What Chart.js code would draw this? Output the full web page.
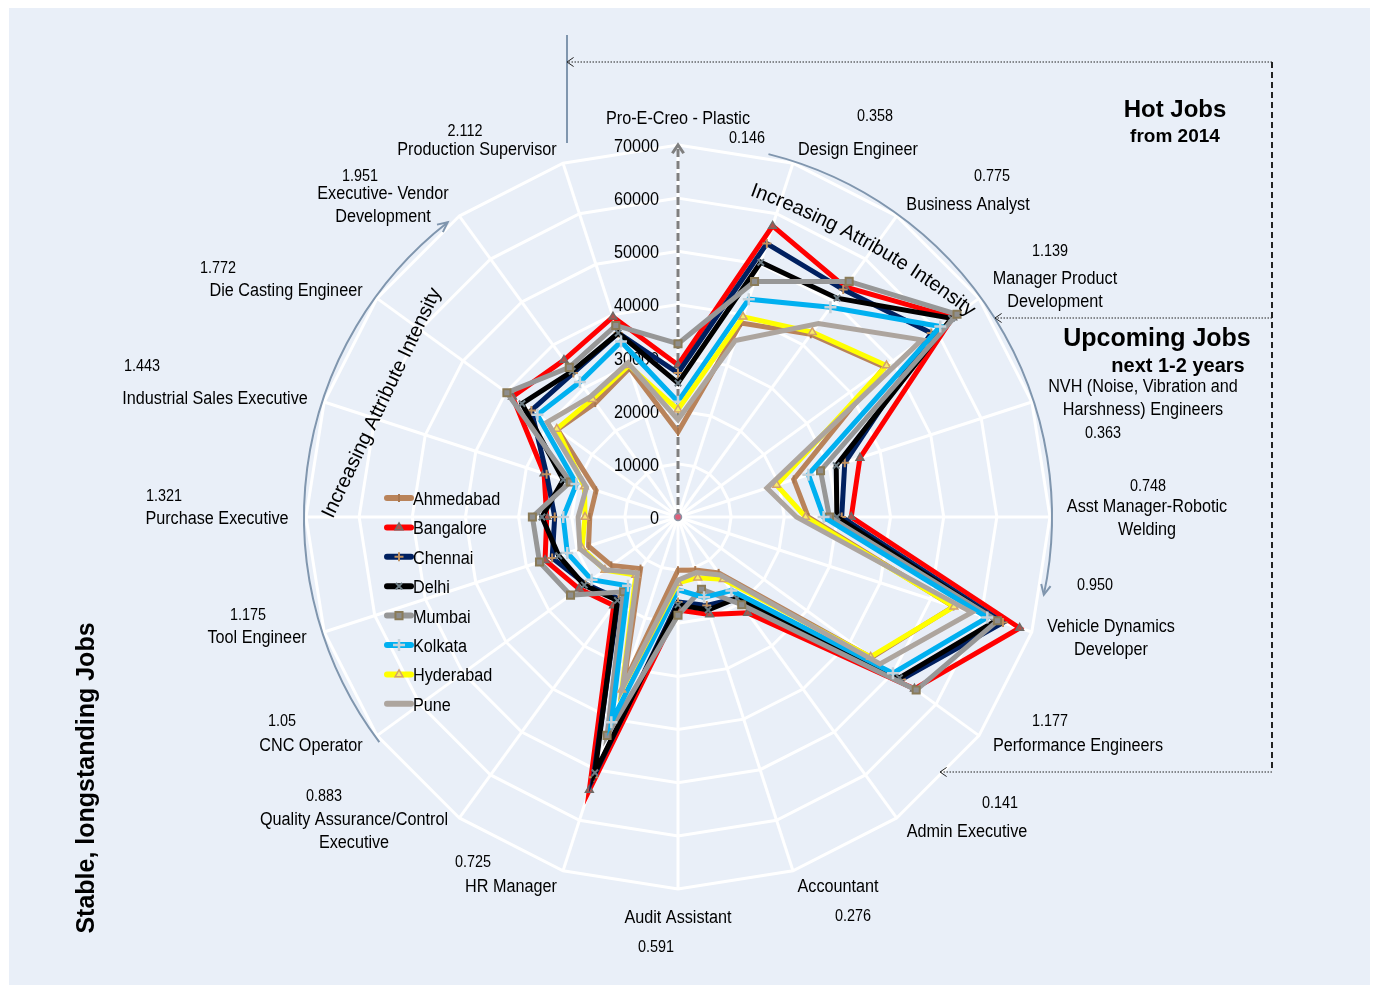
<!DOCTYPE html>
<html>
<head>
<meta charset="utf-8">
<script src="https://cdn.jsdelivr.net/npm/chart.js@4.4.0/dist/chart.umd.min.js"></script>
<style>
  html, body { margin: 0; padding: 0; background: #fff; }
  canvas { display: block; }
</style>
</head>
<body>
<canvas id="jobChart" width="1378" height="987"></canvas>
<script>
// Categories, clockwise from the top
const categories = [
  'Pro-E-Creo - Plastic', 'Design Engineer', 'Business Analyst', 'Manager Product\nDevelopment',
  'NVH (Noise, Vibration and\nHarshness) Engineers', 'Asst Manager-Robotic\nWelding',
  'Vehicle Dynamics\nDeveloper', 'Performance Engineers', 'Admin Executive', 'Accountant',
  'Audit Assistant', 'HR Manager', 'Quality Assurance/Control\nExecutive', 'CNC Operator',
  'Tool Engineer', 'Purchase Executive', 'Industrial Sales Executive', 'Die Casting Engineer',
  'Executive- Vendor\nDevelopment', 'Production Supervisor'
];
const intensity = [
  '0.146', '0.358', '0.775', '1.139', '0.363', '0.748', '0.950', '1.177', '0.141', '0.276',
  '0.591', '0.725', '0.883', '1.05', '1.175', '1.321', '1.443', '1.772', '1.951', '2.112'
];
const tickValues = [0, 10000, 20000, 30000, 40000, 50000, 60000, 70000];

// Salary values per city
const ahmedabad = [16000, 38400, 42500, 48000, 22900, 24500, 54500, 45000, 13000, 10500, 10000, 33000, 12000, 15500, 17700, 16600, 16200, 28000, 26500, 29500];
const bangalore = [28600, 57600, 53500, 63900, 36000, 32600, 67600, 55000, 22300, 19300, 17500, 54000, 20600, 23000, 26300, 24700, 26500, 38500, 36500, 39600];
const chennai   = [27100, 54100, 52900, 58900, 33000, 30800, 64300, 52000, 18900, 17500, 16000, 51500, 19000, 21500, 24900, 23200, 26000, 34100, 33500, 36400];
const delhi     = [25200, 50400, 50900, 63600, 31300, 29900, 63000, 51500, 18900, 18400, 16500, 50600, 19400, 21800, 23600, 25600, 22700, 36300, 33900, 36400];
const mumbai    = [32600, 46600, 54800, 64900, 28200, 28500, 63200, 55400, 20400, 14300, 18500, 43200, 17400, 25000, 27400, 27400, 21300, 39800, 34800, 37900];
const kolkata   = [21700, 43100, 48800, 61000, 25800, 27400, 61200, 50000, 17100, 15900, 13700, 40600, 16000, 20100, 21900, 21600, 20100, 32700, 31400, 34700];
const hyderabad = [20200, 39600, 43000, 48500, 19500, 24000, 54600, 44800, 14500, 12000, 12400, 34200, 13500, 17000, 19000, 17500, 18500, 28200, 27400, 30000];
const pune      = [18300, 34900, 45000, 56700, 17600, 22300, 58100, 47000, 13500, 11000, 11900, 33800, 13000, 16900, 19400, 18800, 18100, 30400, 28000, 30500];

const cities = ['Ahmedabad', 'Bangalore', 'Chennai', 'Delhi', 'Mumbai', 'Kolkata', 'Hyderabad', 'Pune'];
const cityValues = [ahmedabad, bangalore, chennai, delhi, mumbai, kolkata, hyderabad, pune];

// line + marker look for each city
const styles = [
  { line: '#B9835A', style: 'line', rot: 90, r: 4, fill: '#A8764E', edge: '#A8764E', bw: 2 },
  { line: '#FF0000', style: 'triangle', rot: 0, r: 4.5, fill: '#B4504A', edge: '#6F6A66', bw: 1.5 },
  { line: '#002060', style: 'cross', rot: 0, r: 4.5, fill: '#C0905E', edge: '#C0905E', bw: 2 },
  { line: '#000000', style: 'crossRot', rot: 0, r: 4.5, fill: '#44525A', edge: '#6C7C84', bw: 2 },
  { line: '#979797', style: 'rect', rot: 0, r: 5, fill: '#8E8E8E', edge: '#8A7B58', bw: 2 },
  { line: '#00B0F0', style: 'cross', rot: 0, r: 6, fill: '#C6D2DA', edge: '#C6D2DA', bw: 2.5 },
  { line: '#FFFF00', style: 'triangle', rot: 0, r: 4.5, fill: '#F6EC6A', edge: '#D2A06E', bw: 1.5 },
  { line: '#ADA59E', style: 'circle', rot: 0, r: 0, fill: '#ADA59E', edge: '#ADA59E', bw: 0 }
];

// where the texts sit
const labelSpots = [
  [678, 117], [858, 148], [968, 203], [1055, 277], [1143, 385], [1147, 505], [1111, 625],
  [1078, 744], [967, 830], [838, 885], [678, 916], [511, 885], [354, 818], [311, 744],
  [257, 636], [217, 517], [215, 397], [286, 289], [383, 192], [477, 148]
];
const numberSpots = [
  [747, 137], [875, 115], [992, 175], [1050, 250], [1103, 432], [1148, 485], [1095, 584],
  [1050, 720], [1000, 802], [853, 915], [656, 946], [473, 861], [324, 795], [282, 720],
  [248, 614], [164, 495], [142, 365], [218, 267], [360, 175], [465, 130]
];

const FONT = '"Liberation Sans", Arial, sans-serif';

function txt(ctx, s, x, y, font, align, sx, color) {
  ctx.save();
  ctx.font = font;
  ctx.fillStyle = color || '#000';
  ctx.textAlign = align || 'center';
  ctx.textBaseline = 'middle';
  ctx.translate(x, y + 2);
  ctx.scale(sx || 1, 1);
  ctx.fillText(s, 0, 0);
  ctx.restore();
}

function chevron(ctx, x, y, dx, dy, len, spread) {
  const a = Math.atan2(dy, dx);
  ctx.beginPath();
  ctx.moveTo(x - len * Math.cos(a - spread), y - len * Math.sin(a - spread));
  ctx.lineTo(x, y);
  ctx.lineTo(x - len * Math.cos(a + spread), y - len * Math.sin(a + spread));
  ctx.stroke();
}

function marker(ctx, st, x, y) {
  if (!st.r || !Chart.helpers || !Chart.helpers.drawPoint) return;
  ctx.save();
  ctx.fillStyle = st.fill;
  ctx.strokeStyle = st.edge;
  ctx.lineWidth = st.bw;
  ctx.setLineDash([]);
  Chart.helpers.drawPoint(ctx, { pointStyle: st.style, rotation: st.rot, radius: st.r, borderWidth: st.bw }, x, y);
  ctx.restore();
}

const backdrop = {
  id: 'backdrop',
  beforeDraw(chart) {
    const ctx = chart.ctx;
    ctx.save();
    ctx.fillStyle = '#ffffff';
    ctx.fillRect(0, 0, chart.width, chart.height);
    ctx.fillStyle = '#E9EFF8';
    ctx.fillRect(9, 8, 1361, 977);
    ctx.restore();
  },
  beforeDatasetsDraw(chart) {
    const ctx = chart.ctx;
    const r = chart.scales.r;
    // tick labels on the left of the vertical axis
    tickValues.forEach(v => {
      const y = r.yCenter - r.getDistanceFromCenterForValue(v);
      txt(ctx, String(v), r.xCenter - 19, y, '18px ' + FONT, 'right', 0.9);
    });
    // dashed axis arrow
    const top = r.yCenter - r.getDistanceFromCenterForValue(70000);
    ctx.save();
    ctx.strokeStyle = '#7F7F7F';
    ctx.lineWidth = 3;
    ctx.setLineDash([8, 4]);
    ctx.beginPath();
    ctx.moveTo(r.xCenter, r.yCenter);
    ctx.lineTo(r.xCenter, top + 2);
    ctx.stroke();
    ctx.setLineDash([]);
    chevron(ctx, r.xCenter, top, 0, -1, 10, 0.6);
    ctx.restore();
  },
  afterDraw(chart) {
    const ctx = chart.ctx;
    const r = chart.scales.r;
    const cx = r.xCenter, cy = r.yCenter;

    // centre dot
    ctx.save();
    ctx.fillStyle = '#E0607A';
    ctx.strokeStyle = '#8A95A5';
    ctx.lineWidth = 1.5;
    ctx.beginPath();
    ctx.arc(cx, cy, 3.5, 0, Math.PI * 2);
    ctx.fill();
    ctx.stroke();
    ctx.restore();

    // category labels and intensity numbers
    categories.forEach((c, i) => {
      const lines = c.split('\n');
      lines.forEach((ln, k) => {
        txt(ctx, ln, labelSpots[i][0], labelSpots[i][1] + k * 23, '18px ' + FONT, 'center', 0.9);
      });
      txt(ctx, intensity[i], numberSpots[i][0], numberSpots[i][1], '16px ' + FONT, 'center', 0.9);
    });

    // legend
    cities.forEach((name, i) => {
      const y = 498 + i * 29.4;
      const st = styles[i];
      ctx.save();
      ctx.strokeStyle = st.line;
      ctx.lineWidth = 6;
      ctx.lineCap = 'round';
      ctx.beginPath();
      ctx.moveTo(387, y);
      ctx.lineTo(411, y);
      ctx.stroke();
      ctx.restore();
      marker(ctx, st, 399, y);
      txt(ctx, name, 413, y, '18px ' + FONT, 'left', 0.9);
    });

    // arcs with arrows
    const deg = Math.PI / 180;
    ctx.save();
    ctx.strokeStyle = '#8096AE';
    ctx.lineWidth = 2;
    ctx.beginPath();
    ctx.arc(cx, cy, 374, (14 - 90) * deg, (102 - 90) * deg);
    ctx.stroke();
    let a = 102 * deg;
    chevron(ctx, cx + 374 * Math.sin(a), cy - 374 * Math.cos(a), Math.cos(a), Math.sin(a), 11, 0.45);
    ctx.beginPath();
    ctx.arc(cx, cy, 374, (233 - 90) * deg, (322 - 90) * deg);
    ctx.stroke();
    a = 322 * deg;
    chevron(ctx, cx + 374 * Math.sin(a), cy - 374 * Math.cos(a), Math.cos(a), Math.sin(a), 11, 0.45);
    // short vertical mark at the top
    ctx.beginPath();
    ctx.moveTo(567, 35);
    ctx.lineTo(567, 143);
    ctx.stroke();
    ctx.restore();

    // dotted / dashed bracket lines on the right
    ctx.save();
    ctx.strokeStyle = '#222';
    ctx.lineWidth = 1;
    ctx.setLineDash([1.5, 1.5]);
    [[567, 62], [995, 318], [940, 772]].forEach(p => {
      ctx.beginPath();
      ctx.moveTo(1272, p[1]);
      ctx.lineTo(p[0], p[1]);
      ctx.stroke();
    });
    ctx.setLineDash([]);
    [[567, 62], [995, 318], [940, 772]].forEach(p => chevron(ctx, p[0], p[1], -1, 0, 8, 0.6));
    ctx.lineWidth = 2;
    ctx.setLineDash([6, 4]);
    ctx.beginPath();
    ctx.moveTo(1272, 62);
    ctx.lineTo(1272, 772);
    ctx.stroke();
    ctx.restore();

    // section titles
    txt(ctx, 'Hot Jobs', 1175, 108, 'bold 24px ' + FONT, 'center', 1);
    txt(ctx, 'from 2014', 1175, 135, 'bold 19px ' + FONT, 'center', 1);
    txt(ctx, 'Upcoming Jobs', 1157, 337, 'bold 25px ' + FONT, 'center', 1);
    txt(ctx, 'next 1-2 years', 1178, 364, 'bold 20px ' + FONT, 'center', 1);
    ctx.save();
    ctx.translate(87, 778);
    ctx.rotate(-Math.PI / 2);
    txt(ctx, 'Stable, longstanding Jobs', 0, -2, 'bold 25px ' + FONT, 'center', 1);
    ctx.restore();

    // left straight caption
    ctx.save();
    ctx.translate(382, 403);
    ctx.rotate(-64.5 * deg);
    txt(ctx, 'Increasing Attribute Intensity', 0, -2, '20px ' + FONT, 'center', 1);
    ctx.restore();

    // right curved caption
    ctx.save();
    ctx.font = '20px ' + FONT;
    ctx.fillStyle = '#000';
    ctx.textAlign = 'center';
    ctx.textBaseline = 'alphabetic';
    const ccx = 476, ccy = 947, R = 800;
    let ang = 20 * deg;
    for (const ch of 'Increasing Attribute Intensity') {
      const w = ctx.measureText(ch).width;
      const mid = ang + w / (2 * R);
      ctx.save();
      ctx.translate(ccx + R * Math.sin(mid), ccy - R * Math.cos(mid));
      ctx.rotate(mid);
      ctx.fillText(ch, 0, 0);
      ctx.restore();
      ang += w / R;
    }
    ctx.restore();
  }
};

const datasets = cities.map((name, i) => ({
  label: name,
  data: cityValues[i],
  borderColor: styles[i].line,
  backgroundColor: 'transparent',
  fill: false,
  borderWidth: 5,
  borderJoinStyle: 'miter',
  pointStyle: styles[i].style,
  pointRotation: styles[i].rot,
  pointRadius: styles[i].r,
  pointBackgroundColor: styles[i].fill,
  pointBorderColor: styles[i].edge,
  pointBorderWidth: styles[i].bw,
  order: cities.length - i,
  clip: false
}));

const chart = new Chart(document.getElementById('jobChart').getContext('2d'), {
  type: 'radar',
  data: { labels: categories, datasets: datasets },
  options: {
    responsive: false,
    animation: false,
    devicePixelRatio: 1,
    layout: { padding: { left: 300, right: 320, top: 140, bottom: 90 } },
    plugins: { legend: { display: false }, tooltip: { enabled: false } },
    elements: { line: { tension: 0 } },
    scales: {
      r: {
        min: 0,
        max: 70000,
        ticks: { display: false, stepSize: 10000 },
        grid: { color: '#FFFFFF', lineWidth: 3, circular: false },
        angleLines: { color: '#FFFFFF', lineWidth: 3 },
        pointLabels: { display: false },
        afterFit(scale) {
          scale.xCenter = 678;
          scale.yCenter = 517;
          scale.drawingArea = 372;
        }
      }
    }
  },
  plugins: [backdrop]
});
</script>
</body>
</html>
